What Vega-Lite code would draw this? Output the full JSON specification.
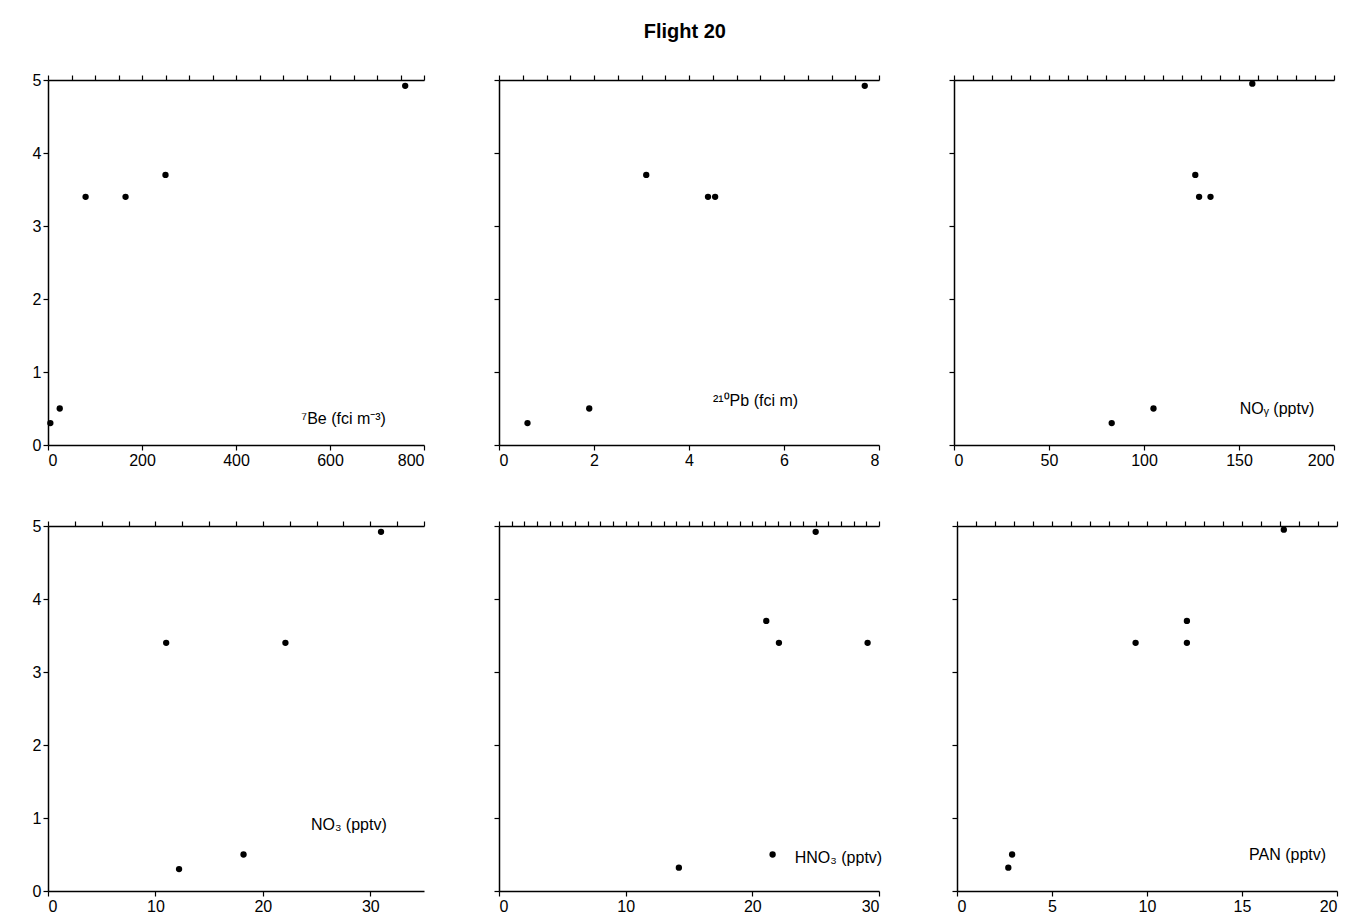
{
  "$schema": "https://vega.github.io/schema/vega-lite/v6.json",
  "padding": {"left": 32, "top": 22, "right": 5, "bottom": 5},
  "title": {"text": "Flight 20", "fontSize": 20, "font": "Liberation Sans", "fontWeight": "bold", "anchor": "middle", "color": "black", "offset": 30},
  "config": {
    "view": {"stroke": null},
    "font": "Liberation Sans",
    "axis": {"domainColor": "black", "tickColor": "black", "labelColor": "black", "labelFontSize": 16, "grid": false, "title": null, "domainWidth": 1.5, "tickWidth": 1.2},
    "point": {"filled": true, "color": "black", "size": 40, "opacity": 1}
  },
  "datasets": {
    "pts": [
      {"p": "Be", "x": 5, "z": 0.3}, {"p": "Be", "x": 25, "z": 0.5}, {"p": "Be", "x": 80, "z": 3.4}, {"p": "Be", "x": 165, "z": 3.4}, {"p": "Be", "x": 250, "z": 3.7}, {"p": "Be", "x": 760, "z": 4.92},
      {"p": "Pb", "x": 0.6, "z": 0.3}, {"p": "Pb", "x": 1.9, "z": 0.5}, {"p": "Pb", "x": 3.1, "z": 3.7}, {"p": "Pb", "x": 4.4, "z": 3.4}, {"p": "Pb", "x": 4.55, "z": 3.4}, {"p": "Pb", "x": 7.7, "z": 4.92},
      {"p": "NOy", "x": 83, "z": 0.3}, {"p": "NOy", "x": 105, "z": 0.5}, {"p": "NOy", "x": 127, "z": 3.7}, {"p": "NOy", "x": 129, "z": 3.4}, {"p": "NOy", "x": 135, "z": 3.4}, {"p": "NOy", "x": 157, "z": 4.95},
      {"p": "NO3", "x": 12.2, "z": 0.3}, {"p": "NO3", "x": 18.2, "z": 0.5}, {"p": "NO3", "x": 11, "z": 3.4}, {"p": "NO3", "x": 22.1, "z": 3.4}, {"p": "NO3", "x": 31, "z": 4.92},
      {"p": "HNO3", "x": 14.2, "z": 0.32}, {"p": "HNO3", "x": 21.6, "z": 0.5}, {"p": "HNO3", "x": 21.1, "z": 3.7}, {"p": "HNO3", "x": 22.1, "z": 3.4}, {"p": "HNO3", "x": 29.1, "z": 3.4}, {"p": "HNO3", "x": 25, "z": 4.92},
      {"p": "PAN", "x": 2.7, "z": 0.32}, {"p": "PAN", "x": 2.9, "z": 0.5}, {"p": "PAN", "x": 9.4, "z": 3.4}, {"p": "PAN", "x": 12.1, "z": 3.7}, {"p": "PAN", "x": 12.1, "z": 3.4}, {"p": "PAN", "x": 17.2, "z": 4.95}
    ],
    "labs": [
      {"p": "Be", "x": 629, "z": 0.35, "t": "⁷Be (fci m⁻³)"},
      {"p": "Pb", "x": 5.4, "z": 0.6, "t": "²¹⁰Pb (fci m)"},
      {"p": "NOy", "x": 170, "z": 0.5, "t": "NOᵧ (pptv)"},
      {"p": "NO3", "x": 28, "z": 0.9, "t": "NO₃ (pptv)"},
      {"p": "HNO3", "x": 26.8, "z": 0.45, "t": "HNO₃ (pptv)"},
      {"p": "PAN", "x": 17.4, "z": 0.5, "t": "PAN (pptv)"}
    ]
  },
  "spacing": 50,
  "vconcat": [
    {"spacing": 68, "hconcat": [
      {"width": 376, "height": 365, "resolve": {"scale": {"x": "independent"}, "axis": {"x": "independent"}}, "layer": [
        {"data": {"name": "pts"}, "transform": [{"filter": "datum.p=='Be'"}], "mark": "point",
         "encoding": {"x": {"field": "x", "type": "quantitative", "scale": {"domain": [0, 800], "nice": false}, "axis": {"values": [0, 200, 400, 600, 800]}},
                      "y": {"field": "z", "type": "quantitative", "scale": {"domain": [0, 5], "nice": false}, "axis": {"values": [0, 1, 2, 3, 4, 5], "format": "d"}}}},
        {"data": {"name": "pts"}, "transform": [{"filter": "datum.p=='Be'"}], "mark": {"type": "point", "opacity": 0},
         "encoding": {"x": {"field": "x", "type": "quantitative", "scale": {"domain": [0, 800], "nice": false}, "axis": {"orient": "top", "labels": false, "values": [0, 50, 100, 150, 200, 250, 300, 350, 400, 450, 500, 550, 600, 650, 700, 750, 800]}}, "y": {"field": "z", "type": "quantitative"}}},
        {"data": {"name": "labs"}, "transform": [{"filter": "datum.p=='Be'"}], "mark": {"type": "text", "fontSize": 16},
         "encoding": {"x": {"field": "x", "type": "quantitative", "scale": {"domain": [0, 800], "nice": false}, "axis": null}, "y": {"field": "z", "type": "quantitative"}, "text": {"field": "t"}}}
      ]},
      {"width": 380, "height": 365, "resolve": {"scale": {"x": "independent"}, "axis": {"x": "independent"}}, "layer": [
        {"data": {"name": "pts"}, "transform": [{"filter": "datum.p=='Pb'"}], "mark": "point",
         "encoding": {"x": {"field": "x", "type": "quantitative", "scale": {"domain": [0, 8], "nice": false}, "axis": {"values": [0, 2, 4, 6, 8]}},
                      "y": {"field": "z", "type": "quantitative", "scale": {"domain": [0, 5], "nice": false}, "axis": {"labels": false, "values": [0, 0.5, 1, 1.5, 2, 2.5, 3, 3.5, 4, 4.5, 5]}}}},
        {"data": {"name": "pts"}, "transform": [{"filter": "datum.p=='Pb'"}], "mark": {"type": "point", "opacity": 0},
         "encoding": {"x": {"field": "x", "type": "quantitative", "scale": {"domain": [0, 8], "nice": false}, "axis": {"orient": "top", "labels": false, "values": [0, 0.5, 1, 1.5, 2, 2.5, 3, 3.5, 4, 4.5, 5, 5.5, 6, 6.5, 7, 7.5, 8]}}, "y": {"field": "z", "type": "quantitative"}}},
        {"data": {"name": "labs"}, "transform": [{"filter": "datum.p=='Pb'"}], "mark": {"type": "text", "fontSize": 16},
         "encoding": {"x": {"field": "x", "type": "quantitative", "scale": {"domain": [0, 8], "nice": false}, "axis": null}, "y": {"field": "z", "type": "quantitative"}, "text": {"field": "t"}}}
      ]},
      {"width": 380, "height": 365, "resolve": {"scale": {"x": "independent"}, "axis": {"x": "independent"}}, "layer": [
        {"data": {"name": "pts"}, "transform": [{"filter": "datum.p=='NOy'"}], "mark": "point",
         "encoding": {"x": {"field": "x", "type": "quantitative", "scale": {"domain": [0, 200], "nice": false}, "axis": {"values": [0, 50, 100, 150, 200]}},
                      "y": {"field": "z", "type": "quantitative", "scale": {"domain": [0, 5], "nice": false}, "axis": {"labels": false, "values": [0, 0.5, 1, 1.5, 2, 2.5, 3, 3.5, 4, 4.5, 5]}}}},
        {"data": {"name": "pts"}, "transform": [{"filter": "datum.p=='NOy'"}], "mark": {"type": "point", "opacity": 0},
         "encoding": {"x": {"field": "x", "type": "quantitative", "scale": {"domain": [0, 200], "nice": false}, "axis": {"orient": "top", "labels": false, "values": [0, 10, 20, 30, 40, 50, 60, 70, 80, 90, 100, 110, 120, 130, 140, 150, 160, 170, 180, 190, 200]}}, "y": {"field": "z", "type": "quantitative"}}},
        {"data": {"name": "labs"}, "transform": [{"filter": "datum.p=='NOy'"}], "mark": {"type": "text", "fontSize": 16},
         "encoding": {"x": {"field": "x", "type": "quantitative", "scale": {"domain": [0, 200], "nice": false}, "axis": null}, "y": {"field": "z", "type": "quantitative"}, "text": {"field": "t"}}}
      ]}
    ]},
    {"spacing": 68, "hconcat": [
      {"width": 376, "height": 365, "resolve": {"scale": {"x": "independent"}, "axis": {"x": "independent"}}, "layer": [
        {"data": {"name": "pts"}, "transform": [{"filter": "datum.p=='NO3'"}], "mark": "point",
         "encoding": {"x": {"field": "x", "type": "quantitative", "scale": {"domain": [0, 35], "nice": false}, "axis": {"values": [0, 10, 20, 30]}},
                      "y": {"field": "z", "type": "quantitative", "scale": {"domain": [0, 5], "nice": false}, "axis": {"values": [0, 1, 2, 3, 4, 5], "format": "d"}}}},
        {"data": {"name": "pts"}, "transform": [{"filter": "datum.p=='NO3'"}], "mark": {"type": "point", "opacity": 0},
         "encoding": {"x": {"field": "x", "type": "quantitative", "scale": {"domain": [0, 35], "nice": false}, "axis": {"orient": "top", "labels": false, "values": [0, 2.5, 5, 7.5, 10, 12.5, 15, 17.5, 20, 22.5, 25, 27.5, 30, 32.5, 35]}}, "y": {"field": "z", "type": "quantitative"}}},
        {"data": {"name": "labs"}, "transform": [{"filter": "datum.p=='NO3'"}], "mark": {"type": "text", "fontSize": 16},
         "encoding": {"x": {"field": "x", "type": "quantitative", "scale": {"domain": [0, 35], "nice": false}, "axis": null}, "y": {"field": "z", "type": "quantitative"}, "text": {"field": "t"}}}
      ]},
      {"width": 380, "height": 365, "resolve": {"scale": {"x": "independent"}, "axis": {"x": "independent"}}, "layer": [
        {"data": {"name": "pts"}, "transform": [{"filter": "datum.p=='HNO3'"}], "mark": "point",
         "encoding": {"x": {"field": "x", "type": "quantitative", "scale": {"domain": [0, 30], "nice": false}, "axis": {"values": [0, 10, 20, 30]}},
                      "y": {"field": "z", "type": "quantitative", "scale": {"domain": [0, 5], "nice": false}, "axis": {"labels": false, "values": [0, 0.5, 1, 1.5, 2, 2.5, 3, 3.5, 4, 4.5, 5]}}}},
        {"data": {"name": "pts"}, "transform": [{"filter": "datum.p=='HNO3'"}], "mark": {"type": "point", "opacity": 0},
         "encoding": {"x": {"field": "x", "type": "quantitative", "scale": {"domain": [0, 30], "nice": false}, "axis": {"orient": "top", "labels": false, "values": [0, 1, 2, 3, 4, 5, 6, 7, 8, 9, 10, 11, 12, 13, 14, 15, 16, 17, 18, 19, 20, 21, 22, 23, 24, 25, 26, 27, 28, 29, 30]}}, "y": {"field": "z", "type": "quantitative"}}},
        {"data": {"name": "labs"}, "transform": [{"filter": "datum.p=='HNO3'"}], "mark": {"type": "text", "fontSize": 16},
         "encoding": {"x": {"field": "x", "type": "quantitative", "scale": {"domain": [0, 30], "nice": false}, "axis": null}, "y": {"field": "z", "type": "quantitative"}, "text": {"field": "t"}}}
      ]},
      {"width": 380, "height": 365, "resolve": {"scale": {"x": "independent"}, "axis": {"x": "independent"}}, "layer": [
        {"data": {"name": "pts"}, "transform": [{"filter": "datum.p=='PAN'"}], "mark": "point",
         "encoding": {"x": {"field": "x", "type": "quantitative", "scale": {"domain": [0, 20], "nice": false}, "axis": {"values": [0, 5, 10, 15, 20]}},
                      "y": {"field": "z", "type": "quantitative", "scale": {"domain": [0, 5], "nice": false}, "axis": {"labels": false, "values": [0, 0.5, 1, 1.5, 2, 2.5, 3, 3.5, 4, 4.5, 5]}}}},
        {"data": {"name": "pts"}, "transform": [{"filter": "datum.p=='PAN'"}], "mark": {"type": "point", "opacity": 0},
         "encoding": {"x": {"field": "x", "type": "quantitative", "scale": {"domain": [0, 20], "nice": false}, "axis": {"orient": "top", "labels": false, "values": [0, 1, 2, 3, 4, 5, 6, 7, 8, 9, 10, 11, 12, 13, 14, 15, 16, 17, 18, 19, 20]}}, "y": {"field": "z", "type": "quantitative"}}},
        {"data": {"name": "labs"}, "transform": [{"filter": "datum.p=='PAN'"}], "mark": {"type": "text", "fontSize": 16},
         "encoding": {"x": {"field": "x", "type": "quantitative", "scale": {"domain": [0, 20], "nice": false}, "axis": null}, "y": {"field": "z", "type": "quantitative"}, "text": {"field": "t"}}}
      ]}
    ]}
  ]
}
